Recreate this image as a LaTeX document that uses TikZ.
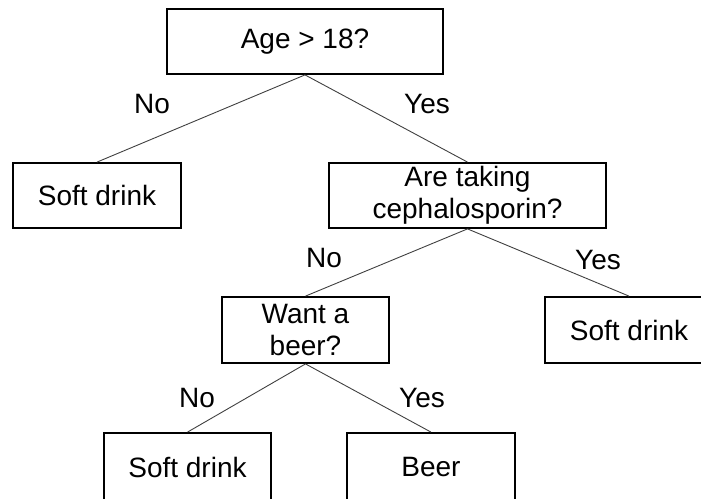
\documentclass[tikz,border=0pt]{standalone}
\usepackage{fontspec}
\setmainfont{Liberation Sans}
\begin{document}
\begin{tikzpicture}[x=1pt,y=-1pt,
  box/.style={draw=black,line width=1.8pt,minimum height=65pt,inner sep=0pt,align=center,font=\fontsize{28}{32}\selectfont},
  lbl/.style={font=\fontsize{28}{32}\selectfont,inner sep=0pt},
  conn/.style={draw=black!75,line width=0.9pt}]
\useasboundingbox (0,0) rectangle (701,498);
\node[box,minimum width=276pt] (root) at (305,41.5) {Age > 18?};
\node[box,minimum width=168pt] (sdl) at (97,195.5) {Soft drink};
\node[box,minimum width=277pt] (ceph) at (467.5,195.5) {Are taking\\cephalosporin?};
\node[box,minimum width=167pt,minimum height=66pt] (want) at (305.5,330) {Want a\\beer?};
\node[box,minimum width=168pt,minimum height=66pt] (sdr) at (629,330) {Soft drink};
\node[box,minimum width=167pt,minimum height=68pt] (sdb) at (187.5,467) {Soft drink};
\node[box,minimum width=168pt,minimum height=68pt] (beer) at (431,467) {Beer};
\draw[conn] (root.south) -- (sdl.north);
\draw[conn] (root.south) -- (ceph.north);
\draw[conn] (ceph.south) -- (want.north);
\draw[conn] (ceph.south) -- (sdr.north);
\draw[conn] (want.south) -- (sdb.north);
\draw[conn] (want.south) -- (beer.north);
\node[lbl] (l1) at (152,104) {No};
\node[lbl] (l2) at (427,104) {Yes};
\node[lbl] (l3) at (324,258) {No};
\node[lbl] (l4) at (598,260) {Yes};
\node[lbl] (l5) at (197,398) {No};
\node[lbl] (l6) at (422,398) {Yes};
\end{tikzpicture}
\end{document}
